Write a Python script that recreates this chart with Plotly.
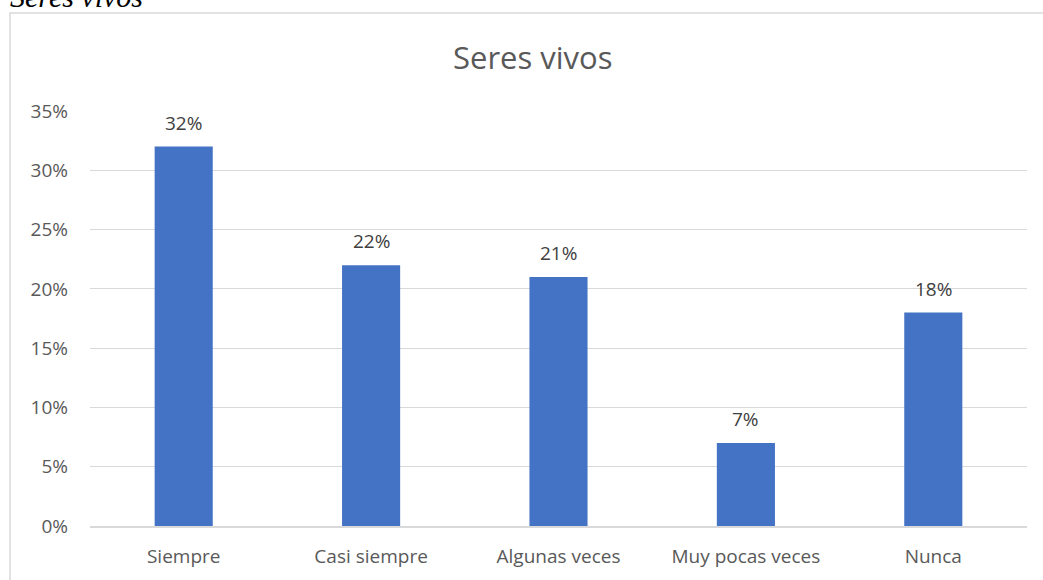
import plotly.graph_objects as go

categories = ["Siempre", "Casi siempre", "Algunas veces", "Muy pocas veces", "Nunca"]
values = [0.32, 0.22, 0.21, 0.07, 0.18]
y_ticks = [0, 0.05, 0.10, 0.15, 0.20, 0.25, 0.30, 0.35]
y_tick_labels = ["0%", "5%", "10%", "15%", "20%", "25%", "30%", "35%"]

W, H = 1043, 580
L, R, T, B = 90, 16, 111, 54
pw, ph = W - L - R, H - T - B


def px_x(x):
    return (x - L) / pw


def px_y(y):
    return (H - B - y) / ph


fig = go.Figure()
fig.add_trace(go.Bar(
    x=categories,
    y=values,
    marker=dict(color="#4472C4", line=dict(width=0)),
    width=0.31,
    hoverinfo="skip",
))

# data labels sit a little higher above the bars than plotly's "outside" text
label_notes = [
    dict(
        x=c, y=v, xref="x", yref="y",
        text=f"{round(v * 100)}%",
        xanchor="center", yanchor="bottom", yshift=9,
        showarrow=False,
        font=dict(family="Open Sans, sans-serif", size=19, color="#404040"),
    )
    for c, v in zip(categories, values)
]

fig.update_layout(
    width=W,
    height=H,
    margin=dict(l=L, r=R, t=T, b=B),
    paper_bgcolor="white",
    plot_bgcolor="white",
    showlegend=False,
    font=dict(family="Open Sans, sans-serif", color="#595959"),
    xaxis=dict(
        showgrid=False,
        showline=True,
        linecolor="#D9D9D9",
        linewidth=1.5,
        tickfont=dict(size=19, color="#595959"),
        ticks="",
        ticklabelstandoff=12,
    ),
    yaxis=dict(
        range=[0, 0.35],
        tickvals=y_ticks,
        ticktext=y_tick_labels,
        showgrid=True,
        gridcolor="#D9D9D9",
        gridwidth=1.2,
        zeroline=False,
        showline=False,
        ticks="",
        ticklabelstandoff=21,
        tickfont=dict(size=19, color="#595959"),
    ),
    annotations=label_notes + [
        dict(
            text="Seres vivos",
            xref="paper", yref="paper",
            x=px_x(533), y=px_y(57),
            xanchor="center", yanchor="middle",
            showarrow=False,
            font=dict(family="Open Sans, sans-serif", size=31, color="#595959"),
        ),
        dict(
            text="<i>Seres vivos</i>",
            xref="paper", yref="paper",
            x=px_x(8), y=px_y(15),
            xanchor="left", yanchor="bottom",
            showarrow=False,
            font=dict(family="Liberation Serif, serif", size=30, color="#000000"),
        ),
    ],
    shapes=[
        dict(
            type="rect",
            xref="paper", yref="paper",
            x0=px_x(10), x1=px_x(1060),
            y0=px_y(600), y1=px_y(13),
            line=dict(color="#D9D9D9", width=1.5),
            fillcolor="rgba(0,0,0,0)",
            layer="below",
        ),
    ],
)

fig.write_html(
    "out.html",
    config={"displayModeBar": False},
    post_script="document.body.style.margin='0';",
)
